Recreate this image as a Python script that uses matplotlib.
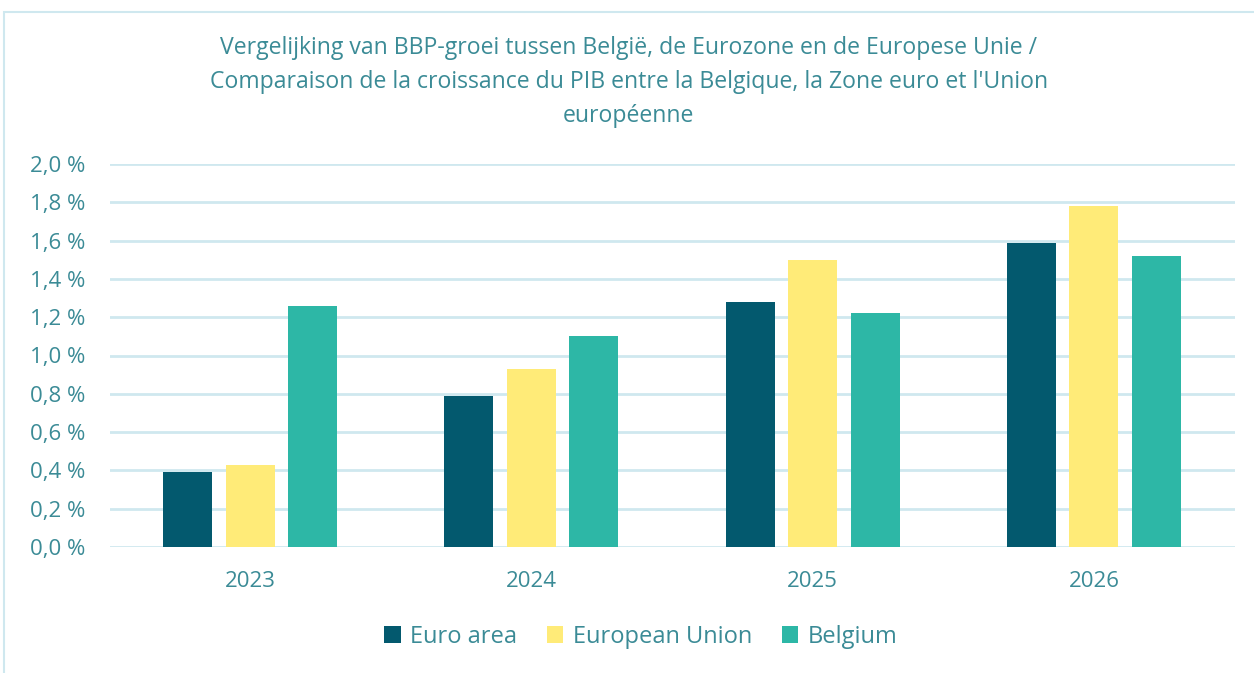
import matplotlib.pyplot as plt
import numpy as np
from matplotlib.patches import Rectangle

years = ["2023", "2024", "2025", "2026"]
series_names = ["Euro area", "European Union", "Belgium"]
euro_area = [0.39, 0.79, 1.28, 1.59]
european_union = [0.43, 0.93, 1.50, 1.78]
belgium = [1.26, 1.10, 1.22, 1.52]
y_ticks = [0.0, 0.2, 0.4, 0.6, 0.8, 1.0, 1.2, 1.4, 1.6, 1.8, 2.0]

colors = ["#03596e", "#ffeb78", "#2db7a6"]
text_color = "#3b8b96"
grid_color = "#cfe8ef"

plt.rcParams["font.family"] = ["Open Sans", "DejaVu Sans"]

fig = plt.figure(figsize=(12.54, 6.73), dpi=100)
ax = fig.add_axes([109.5 / 1254, 1 - 547 / 673, 1125 / 1254, 383 / 673])

fig.patches.append(Rectangle((4 / 1254, -0.1), 1.2, 1 - 12 / 673 + 0.1, transform=fig.transFigure,
                             fill=False, edgecolor="#cfe8ef", linewidth=1.5))

x = np.arange(len(years))
width = 0.174
offset = 0.222
for i, (values, name) in enumerate(zip([euro_area, european_union, belgium], series_names)):
    ax.bar(x + (i - 1) * offset, values, width, color=colors[i], label=name, zorder=3)

ax.set_xlim(-0.5, len(years) - 0.5)
ax.set_ylim(0, 2.0)
ax.set_yticks(y_ticks)
ax.set_yticklabels([f"{t:.1f} %".replace(".", ",") for t in y_ticks])
ax.set_xticks(x)
ax.set_xticklabels(years)
ax.tick_params(axis="both", length=0, colors=text_color, labelsize=16)
ax.tick_params(axis="y", pad=17.5)
ax.tick_params(axis="x", pad=17)
ax.grid(axis="y", color=grid_color, linewidth=2, zorder=0)
for spine in ax.spines.values():
    spine.set_visible(False)

title_lines = [
    "Vergelijking van BBP-groei tussen België, de Eurozone en de Europese Unie /",
    "Comparaison de la croissance du PIB entre la Belgique, la Zone euro et l'Union",
    "européenne",
]
for line, y in zip(title_lines, [48, 82, 116]):
    fig.text(0.5015, 1 - y / 673, line, ha="center", va="center", color=text_color, fontsize=16.6)

leg = fig.legend(loc="center", bbox_to_anchor=(0.511, 1 - 637 / 673), ncol=3, frameon=False,
                 fontsize=17, handlelength=0.7, handleheight=0.7, handletextpad=0.4, columnspacing=1.25)
for t in leg.get_texts():
    t.set_color(text_color)

fig.savefig("out.png", dpi=100)
